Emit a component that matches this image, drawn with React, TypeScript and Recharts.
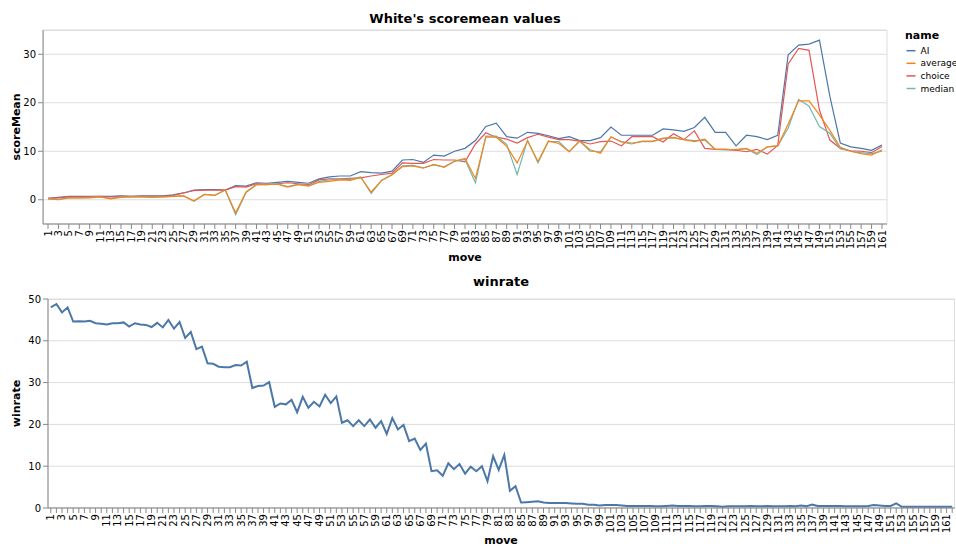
import { LineChart, Line, XAxis, YAxis, CartesianGrid } from 'recharts';

// odd moves for the scoreMean panel
const scoreMoves = [
  1, 3, 5, 7, 9, 11, 13, 15, 17, 19,
  21, 23, 25, 27, 29, 31, 33, 35, 37, 39,
  41, 43, 45, 47, 49, 51, 53, 55, 57, 59,
  61, 63, 65, 67, 69, 71, 73, 75, 77, 79,
  81, 83, 85, 87, 89, 91, 93, 95, 97, 99,
  101, 103, 105, 107, 109, 111, 113, 115, 117, 119,
  121, 123, 125, 127, 129, 131, 133, 135, 137, 139,
  141, 143, 145, 147, 149, 151, 153, 155, 157, 159,
  161,
];

const aiValues = [
  0.3, 0.5, 0.7, 0.7, 0.7, 0.7, 0.7, 0.8, 0.7, 0.8,
  0.8, 0.8, 1.0, 1.4, 2.0, 2.1, 2.1, 2.0, 2.9, 2.8,
  3.5, 3.4, 3.6, 3.8, 3.6, 3.4, 4.3, 4.7, 4.9, 4.9,
  5.8, 5.6, 5.5, 5.9, 8.2, 8.3, 7.7, 9.2, 9.0, 10.0,
  10.6, 12.2, 15.1, 15.8, 13.0, 12.7, 13.9, 13.7, 13.2, 12.6,
  13.0, 12.2, 12.2, 12.8, 15.0, 13.3, 13.3, 13.3, 13.3, 14.6,
  14.4, 14.1, 14.9, 17.0, 13.9, 13.9, 11.1, 13.3, 13.0, 12.4,
  13.3, 29.9, 31.9, 32.1, 32.9, 21.3, 11.7, 10.9, 10.6, 10.2,
  11.3,
];

const averageValues = [
  0.2, 0.0, 0.4, 0.4, 0.4, 0.6, 0.2, 0.5, 0.6, 0.6,
  0.5, 0.6, 0.7, 0.8, -0.2, 1.1, 0.9, 2.0, -2.7, 1.6,
  3.1, 3.1, 3.2, 2.6, 3.1, 2.8, 3.6, 3.8, 4.1, 4.0,
  4.6, 1.6, 4.0, 5.2, 6.8, 7.0, 6.5, 7.3, 6.7, 8.0,
  8.5, 4.4, 12.9, 12.9, 11.0, 7.6, 12.1, 7.9, 12.1, 11.6,
  9.9, 12.1, 10.3, 9.6, 13.0, 11.9, 11.5, 12.1, 12.1, 12.7,
  12.8, 12.4, 12.0, 12.5, 10.4, 10.4, 10.3, 10.6, 9.6, 10.9,
  11.1, 15.6, 20.4, 20.4, 17.5, 14.3, 10.8, 10.0, 9.5, 9.2,
  10.3,
];

const choiceValues = [
  0.3, 0.4, 0.6, 0.6, 0.6, 0.7, 0.6, 0.7, 0.7, 0.7,
  0.7, 0.7, 0.9, 1.4, 1.9, 2.0, 2.0, 2.0, 2.7, 2.6,
  3.3, 3.2, 3.3, 3.5, 3.3, 3.1, 4.1, 4.3, 4.3, 4.4,
  4.5, 4.9, 5.2, 5.5, 7.6, 7.5, 7.5, 8.3, 8.2, 8.2,
  7.8, 11.5, 13.8, 12.9, 12.5, 11.7, 12.8, 13.5, 12.9, 12.4,
  12.4, 12.1, 11.5, 12.0, 12.1, 11.1, 13.0, 13.0, 13.0, 11.9,
  13.6, 12.4, 14.2, 10.6, 10.4, 10.4, 10.2, 9.9, 10.4, 9.4,
  11.2, 28.0, 31.2, 30.8, 18.5, 12.3, 10.6, 10.1, 10.0, 9.7,
  11.0,
];

const medianValues = [
  0.2, 0.1, 0.4, 0.4, 0.5, 0.6, 0.3, 0.6, 0.6, 0.6,
  0.6, 0.6, 0.7, 0.8, -0.3, 1.1, 0.9, 2.0, -3.1, 1.5,
  3.1, 3.1, 3.3, 2.7, 3.2, 2.9, 3.8, 4.1, 4.2, 4.2,
  4.7, 1.3, 4.0, 5.1, 7.0, 7.1, 6.6, 7.2, 6.8, 7.9,
  8.3, 3.5, 13.1, 13.1, 11.4, 5.2, 12.3, 7.6, 12.0, 12.0,
  9.9, 12.1, 10.0, 9.9, 12.9, 12.0, 11.7, 12.0, 12.0, 12.6,
  12.8, 12.4, 12.2, 12.3, 10.4, 10.3, 10.4, 10.5, 9.3, 10.9,
  11.1, 14.8, 20.7, 19.3, 15.1, 13.7, 10.5, 10.0, 9.7, 9.5,
  10.0,
];

// every move for the winrate panel
const winMoves = [
  1, 2, 3, 4, 5, 6, 7, 8, 9, 10,
  11, 12, 13, 14, 15, 16, 17, 18, 19, 20,
  21, 22, 23, 24, 25, 26, 27, 28, 29, 30,
  31, 32, 33, 34, 35, 36, 37, 38, 39, 40,
  41, 42, 43, 44, 45, 46, 47, 48, 49, 50,
  51, 52, 53, 54, 55, 56, 57, 58, 59, 60,
  61, 62, 63, 64, 65, 66, 67, 68, 69, 70,
  71, 72, 73, 74, 75, 76, 77, 78, 79, 80,
  81, 82, 83, 84, 85, 86, 87, 88, 89, 90,
  91, 92, 93, 94, 95, 96, 97, 98, 99, 100,
  101, 102, 103, 104, 105, 106, 107, 108, 109, 110,
  111, 112, 113, 114, 115, 116, 117, 118, 119, 120,
  121, 122, 123, 124, 125, 126, 127, 128, 129, 130,
  131, 132, 133, 134, 135, 136, 137, 138, 139, 140,
  141, 142, 143, 144, 145, 146, 147, 148, 149, 150,
  151, 152, 153, 154, 155, 156, 157, 158, 159, 160,
  161, 162,
];

const winrateValues = [
  48.0, 48.8, 46.8, 48.0, 44.6, 44.7, 44.6, 44.8, 44.2, 44.1,
  43.9, 44.2, 44.2, 44.4, 43.4, 44.2, 43.9, 43.8, 43.3, 44.3,
  43.2, 45.0, 42.9, 44.5, 40.7, 42.1, 38.0, 38.6, 34.6, 34.5,
  33.8, 33.7, 33.7, 34.2, 34.1, 35.0, 28.7, 29.2, 29.3, 30.1,
  24.2, 25.0, 24.8, 25.9, 22.9, 26.6, 24.0, 25.4, 24.3, 27.1,
  25.1, 26.7, 20.4, 21.0, 19.6, 21.0, 19.6, 21.2, 19.2, 20.8,
  17.7, 21.5, 18.8, 19.9, 16.0, 16.6, 13.9, 15.4, 8.8, 9.0,
  7.7, 10.7, 9.3, 10.5, 8.2, 9.9, 8.8, 10.0, 6.4, 12.4,
  9.1, 12.7, 4.1, 5.2, 1.3, 1.4, 1.5, 1.6, 1.3, 1.2,
  1.2, 1.2, 1.2, 1.1, 1.0, 1.0, 0.8, 0.8, 0.6, 0.7,
  0.7, 0.7, 0.6, 0.5, 0.5, 0.5, 0.5, 0.5, 0.4, 0.4,
  0.5, 0.6, 0.5, 0.5, 0.5, 0.4, 0.4, 0.5, 0.5, 0.4,
  0.3, 0.4, 0.4, 0.4, 0.4, 0.5, 0.4, 0.4, 0.5, 0.4,
  0.4, 0.4, 0.5, 0.4, 0.6, 0.4, 0.8, 0.5, 0.5, 0.5,
  0.5, 0.5, 0.4, 0.4, 0.4, 0.4, 0.5, 0.7, 0.6, 0.5,
  0.5, 1.1, 0.3, 0.3, 0.3, 0.3, 0.3, 0.3, 0.3, 0.3,
  0.3, 0.3,
];

const seriesNames = ['AI', 'average', 'choice', 'median'];
const seriesColors = ['#4c78a8', '#f58518', '#e45756', '#72b7b2'];

const scoreTicks = [0, 10, 20, 30];
const winTicks = [0, 10, 20, 30, 40, 50];

const scoreData = scoreMoves.map((move, i) => ({
  move,
  AI: aiValues[i],
  average: averageValues[i],
  choice: choiceValues[i],
  median: medianValues[i],
}));

const winData = winMoves.map((move, i) => ({ move, winrate: winrateValues[i] }));

const FONT = 'DejaVu Sans, sans-serif';
const AXIS = '#888';
const GRID = '#ddd';

const RotatedTick = (props: any) => {
  const { x, y, payload, oddOnly } = props;
  if (oddOnly && payload.value % 2 === 0) return null;
  return (
    <text
      x={x}
      y={y}
      transform={`rotate(-90 ${x} ${y})`}
      textAnchor="end"
      dominantBaseline="central"
      fontSize={10}
      fontFamily={FONT}
      fill="#000"
    >
      {payload.value}
    </text>
  );
};

const yTick = { fontSize: 10, fontFamily: FONT, fill: '#000' };

const App = () => {
  // draw order: median and average above the AI / choice lines
  const order = [0, 2, 3, 1];
  return (
    <div
      style={{
        position: 'fixed',
        left: 0,
        top: 0,
        width: 956,
        height: 546,
        overflow: 'hidden',
        background: '#fff',
        fontFamily: FONT,
      }}
    >
      <svg width={956} height={546} style={{ position: 'absolute', left: 0, top: 0 }}>
        <rect x={43.5} y={30.5} width={843.5} height={193.5} fill="none" stroke={GRID} />
        <rect x={48} y={299.5} width={906.5} height={208} fill="none" stroke={GRID} />

        <text x={465} y={18} textAnchor="middle" dominantBaseline="central" fontSize={13} fontWeight="bold">
          White's scoremean values
        </text>
        <text x={465} y={257} textAnchor="middle" dominantBaseline="central" fontSize={11} fontWeight="bold">
          move
        </text>
        <text
          x={16.5}
          y={127}
          transform="rotate(-90 16.5 127)"
          textAnchor="middle"
          dominantBaseline="central"
          fontSize={11}
          fontWeight="bold"
        >
          scoreMean
        </text>

        <text x={501} y={281.5} textAnchor="middle" dominantBaseline="central" fontSize={13} fontWeight="bold">
          winrate
        </text>
        <text x={501} y={540} textAnchor="middle" dominantBaseline="central" fontSize={11} fontWeight="bold">
          move
        </text>
        <text
          x={16.5}
          y={403.5}
          transform="rotate(-90 16.5 403.5)"
          textAnchor="middle"
          dominantBaseline="central"
          fontSize={11}
          fontWeight="bold"
        >
          winrate
        </text>

        <text x={905} y={35.5} dominantBaseline="central" fontSize={11} fontWeight="bold">
          name
        </text>
        {seriesNames.map((name, i) => (
          <g key={name}>
            <line x1={906.5} x2={915.5} y1={50.7 + i * 12.6} y2={50.7 + i * 12.6} stroke={seriesColors[i]} strokeWidth={1.5} />
            <text x={920.5} y={50.7 + i * 12.6} dominantBaseline="central" fontSize={9} fill="#000">
              {name}
            </text>
          </g>
        ))}
      </svg>

      <div style={{ position: 'absolute', left: 0, top: 0 }}>
        <LineChart width={956} height={256} data={scoreData} margin={{ top: 30, right: 69, left: 0, bottom: 0 }}>
          <CartesianGrid horizontal vertical={false} stroke={GRID} />
          <XAxis
            dataKey="move"
            type="category"
            interval={0}
            height={32}
            padding={{ left: 5, right: 5 }}
            tickSize={5}
            tickMargin={1}
            axisLine={{ stroke: AXIS }}
            tickLine={{ stroke: AXIS }}
            tick={<RotatedTick />}
          />
          <YAxis
            type="number"
            domain={[-5, 35]}
            ticks={scoreTicks}
            width={43}
            tickSize={5}
            tickMargin={2}
            axisLine={{ stroke: AXIS }}
            tickLine={{ stroke: AXIS }}
            tick={yTick}
          />
          {order.map((i) => (
            <Line
              key={seriesNames[i]}
              type="linear"
              dataKey={seriesNames[i]}
              stroke={seriesColors[i]}
              strokeWidth={1.2}
              dot={false}
              isAnimationActive={false}
            />
          ))}
        </LineChart>
      </div>

      <div style={{ position: 'absolute', left: 0, top: 270 }}>
        <LineChart width={956} height={276} data={winData} margin={{ top: 29, right: 1, left: 0, bottom: 0 }}>
          <CartesianGrid horizontal vertical={false} stroke={GRID} />
          <XAxis
            dataKey="move"
            type="category"
            interval={0}
            height={38}
            padding={{ left: 2.8, right: 2.8 }}
            tickSize={5}
            tickMargin={1}
            axisLine={{ stroke: AXIS }}
            tickLine={{ stroke: AXIS }}
            tick={<RotatedTick oddOnly />}
          />
          <YAxis
            type="number"
            domain={[0, 50]}
            ticks={winTicks}
            width={48}
            tickSize={5}
            tickMargin={2}
            axisLine={{ stroke: AXIS }}
            tickLine={{ stroke: AXIS }}
            tick={yTick}
          />
          <Line
            type="linear"
            dataKey="winrate"
            stroke="#4c78a8"
            strokeWidth={2}
            dot={false}
            isAnimationActive={false}
          />
        </LineChart>
      </div>
    </div>
  );
};

export default App;
